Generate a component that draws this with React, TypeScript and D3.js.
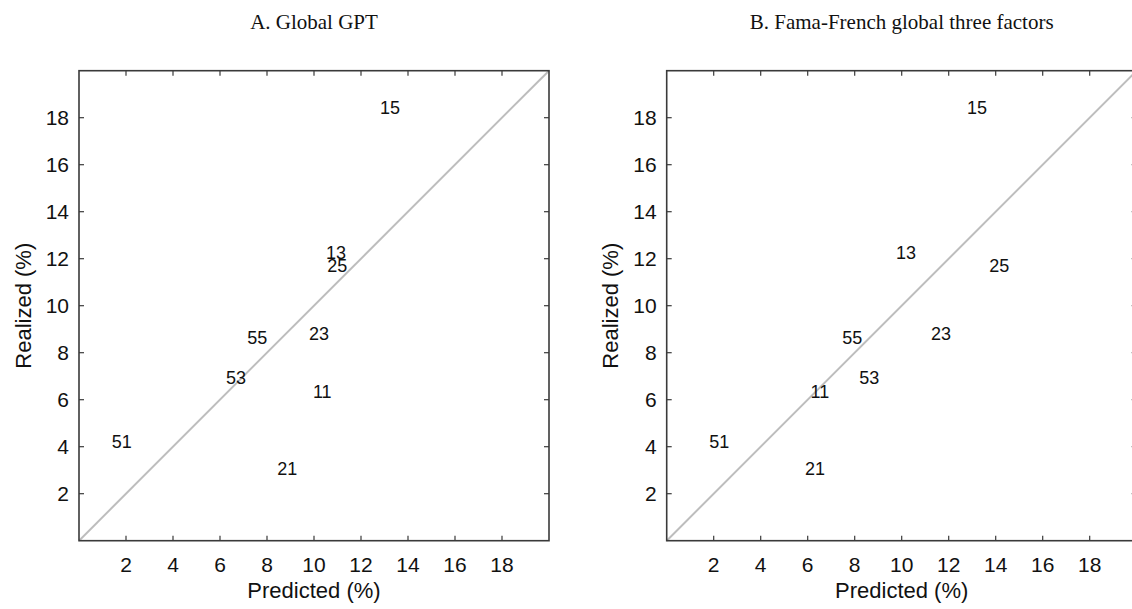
import React from "react";
import * as d3 from "d3";

const portfolios = ["15", "13", "25", "55", "23", "53", "11", "51", "21"];
const realized = [18.43, 12.27, 11.7, 8.63, 8.81, 6.92, 6.33, 4.2, 3.05];
const gptPredicted = [13.23, 10.94, 10.99, 7.59, 10.21, 6.68, 10.35, 1.82, 8.86];
const ffPredicted = [13.2, 10.18, 14.15, 7.9, 11.67, 8.62, 6.52, 2.24, 6.31];
const tickValues = [2, 4, 6, 8, 10, 12, 14, 16, 18];
const panelTitles = ["A. Global GPT", "B. Fama-French global three factors"];
const xLabel = "Predicted (%)";
const yLabel = "Realized (%)";

const W = 1132;
const H = 609;
const SIZE = 470;
const TOP = 70.7;
const LEFTS = [79, 666.7];
const SANS = "'Liberation Sans', Arial, Helvetica, sans-serif";
const SERIF = "'Liberation Serif', 'Times New Roman', serif";
const AXIS_COLOR = "#3a3a3a";

function Panel({ left, title, predicted }: { left: number; title: string; predicted: number[] }) {
  const x = d3.scaleLinear().domain([0, 20]).range([left, left + SIZE]);
  const y = d3.scaleLinear().domain([0, 20]).range([TOP + SIZE, TOP]);
  const tl = 5;
  const cx = left + SIZE / 2;
  return (
    <g>
      <text x={cx} y={29} textAnchor="middle" fontFamily={SERIF} fontSize={21} fill="#111">
        {title}
      </text>
      <line x1={x(0)} y1={y(0)} x2={x(20)} y2={y(20)} stroke="#bdbdbd" strokeWidth={2} />
      {tickValues.map((t) => (
        <g key={"t" + t}>
          <line x1={x(t)} x2={x(t)} y1={y(0)} y2={y(0) - tl} stroke={AXIS_COLOR} strokeWidth={1.2} />
          <line x1={x(t)} x2={x(t)} y1={y(20)} y2={y(20) + tl} stroke={AXIS_COLOR} strokeWidth={1.2} />
          <line x1={x(0)} x2={x(0) + tl} y1={y(t)} y2={y(t)} stroke={AXIS_COLOR} strokeWidth={1.2} />
          <line x1={x(20)} x2={x(20) - tl} y1={y(t)} y2={y(t)} stroke={AXIS_COLOR} strokeWidth={1.2} />
          <text x={x(t)} y={y(0) + 24} dy="0.35em" textAnchor="middle" fontFamily={SANS} fontSize={21} fill="#111">
            {t}
          </text>
          <text x={x(0) - 10} y={y(t)} dy="0.35em" textAnchor="end" fontFamily={SANS} fontSize={21} fill="#111">
            {t}
          </text>
        </g>
      ))}
      <rect x={x(0)} y={y(20)} width={SIZE} height={SIZE} fill="none" stroke={AXIS_COLOR} strokeWidth={1.6} />
      {portfolios.map((p, i) => (
        <text
          key={p}
          x={x(predicted[i])}
          y={y(realized[i])}
          dy="0.35em"
          textAnchor="middle"
          fontFamily={SANS}
          fontSize={18}
          fill="#111"
        >
          {p}
        </text>
      ))}
      <text x={cx} y={590} dy="0.35em" textAnchor="middle" fontFamily={SANS} fontSize={22} fill="#111">
        {xLabel}
      </text>
      <text
        transform={`translate(${left - 56},${TOP + SIZE / 2}) rotate(-90)`}
        dy="0.35em"
        textAnchor="middle"
        fontFamily={SANS}
        fontSize={22}
        fill="#111"
      >
        {yLabel}
      </text>
    </g>
  );
}

export default function App() {
  const series = [gptPredicted, ffPredicted];
  return (
    <svg
      width={W}
      height={H}
      style={{ position: "absolute", left: 0, top: 0, background: "#fff" }}
    >
      <rect x={0} y={0} width={W} height={H} fill="#fff" />
      {series.map((s, i) => (
        <Panel key={i} left={LEFTS[i]} title={panelTitles[i]} predicted={s} />
      ))}
    </svg>
  );
}
